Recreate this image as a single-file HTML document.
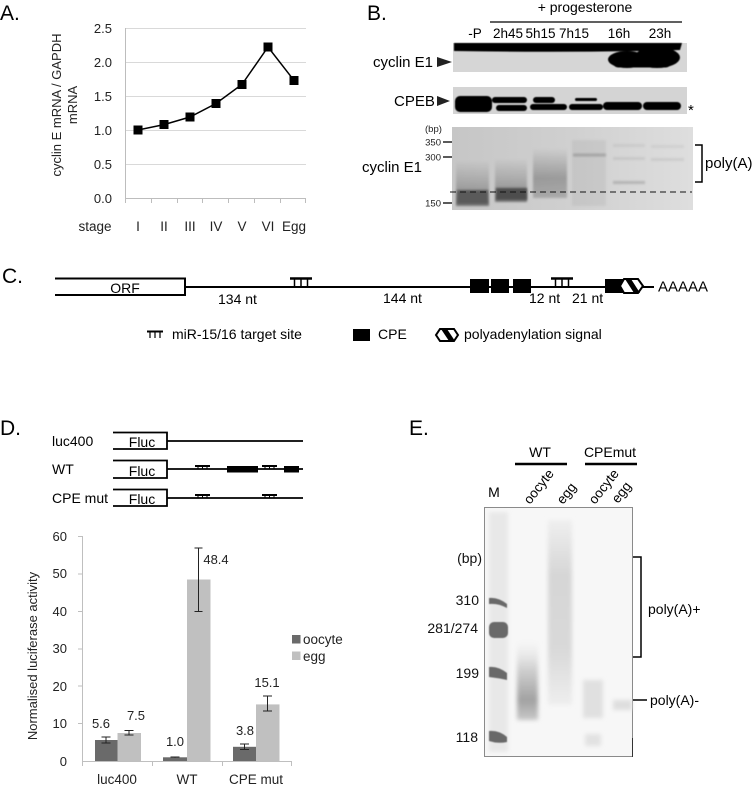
<!DOCTYPE html>
<html><head><meta charset="utf-8"><style>
html,body{margin:0;padding:0;background:#fff;}
svg{display:block;font-family:"Liberation Sans",Arial,sans-serif;}
</style></head><body>
<svg width="756" height="785" viewBox="0 0 756 785" xmlns="http://www.w3.org/2000/svg">
<defs>
<filter id="b05" x="-20%" y="-50%" width="140%" height="200%"><feGaussianBlur stdDeviation="0.6"/></filter>
<filter id="b1" x="-30%" y="-80%" width="160%" height="260%"><feGaussianBlur stdDeviation="1"/></filter>
<filter id="b2" x="-30%" y="-50%" width="160%" height="200%"><feGaussianBlur stdDeviation="2"/></filter>
<linearGradient id="gelB" x1="0" x2="1" y1="0" y2="0"><stop offset="0" stop-color="#c6c6c6"/><stop offset="0.5" stop-color="#d0d0d0"/><stop offset="1" stop-color="#dedede"/></linearGradient>
<linearGradient id="lP" x1="0" x2="0" y1="0" y2="1"><stop offset="0" stop-color="#000" stop-opacity="0"/><stop offset="0.6" stop-color="#000" stop-opacity="0.2"/><stop offset="1" stop-color="#000" stop-opacity="0.4"/></linearGradient>
<linearGradient id="l5" x1="0" x2="0" y1="0" y2="1"><stop offset="0" stop-color="#000" stop-opacity="0"/><stop offset="0.6" stop-color="#000" stop-opacity="0.25"/><stop offset="1" stop-color="#000" stop-opacity="0.18"/></linearGradient>
<linearGradient id="eo" x1="0" x2="0" y1="0" y2="1"><stop offset="0" stop-color="#e8e8e8" stop-opacity="0"/><stop offset="0.35" stop-color="#d2d2d2"/><stop offset="0.75" stop-color="#a2a2a2"/><stop offset="1" stop-color="#c8c8c8"/></linearGradient>
<linearGradient id="ee" x1="0" x2="0" y1="0" y2="1"><stop offset="0" stop-color="#efefef"/><stop offset="0.3" stop-color="#d6d6d6"/><stop offset="0.7" stop-color="#d9d9d9"/><stop offset="1" stop-color="#eeeeee"/></linearGradient>
</defs>

<!-- ============ PANEL A ============ -->
<text x="0" y="20" font-size="21">A.</text>
<g stroke="#d9d9d9" stroke-width="1">
<line x1="125" y1="28.5" x2="306" y2="28.5"/>
<line x1="125" y1="62.5" x2="306" y2="62.5"/>
<line x1="125" y1="96.5" x2="306" y2="96.5"/>
<line x1="125" y1="130.5" x2="306" y2="130.5"/>
<line x1="125" y1="164.5" x2="306" y2="164.5"/>
</g>
<g stroke="#bdbdbd" stroke-width="1">
<line x1="125.5" y1="28" x2="125.5" y2="198"/>
<line x1="125" y1="198.5" x2="306" y2="198.5"/>
<line x1="125.5" y1="198" x2="125.5" y2="203"/>
<line x1="151.5" y1="198" x2="151.5" y2="203"/>
<line x1="177.5" y1="198" x2="177.5" y2="203"/>
<line x1="202.5" y1="198" x2="202.5" y2="203"/>
<line x1="228.5" y1="198" x2="228.5" y2="203"/>
<line x1="254.5" y1="198" x2="254.5" y2="203"/>
<line x1="280.5" y1="198" x2="280.5" y2="203"/>
<line x1="305.5" y1="198" x2="305.5" y2="203"/>
</g>
<g font-size="13" text-anchor="end" fill="#222">
<text x="112" y="33">2.5</text>
<text x="112" y="67">2.0</text>
<text x="112" y="101">1.5</text>
<text x="112" y="135">1.0</text>
<text x="112" y="169">0.5</text>
<text x="112" y="203">0.0</text>
</g>
<g font-size="13" fill="#222">
<text transform="translate(61,105) rotate(-90)" text-anchor="middle">cyclin E mRNA  / GAPDH</text>
<text transform="translate(77,105) rotate(-90)" text-anchor="middle">mRNA</text>
</g>
<g font-size="13.5" fill="#222" text-anchor="middle">
<text x="95" y="231">stage</text>
<text x="138" y="231">I</text>
<text x="164" y="231">II</text>
<text x="190" y="231">III</text>
<text x="216" y="231">IV</text>
<text x="242" y="231">V</text>
<text x="268" y="231">VI</text>
<text x="294" y="231">Egg</text>
</g>
<polyline points="138,130 164,124.6 190,117 216,103.5 242,84.4 268,47 294,80.4" fill="none" stroke="#000" stroke-width="1.5"/>
<g fill="#000">
<rect x="133.5" y="125.5" width="9" height="9"/>
<rect x="159.5" y="120" width="9" height="9"/>
<rect x="185.5" y="112.5" width="9" height="9"/>
<rect x="211.5" y="99" width="9" height="9"/>
<rect x="237.5" y="80" width="9" height="9"/>
<rect x="263.5" y="42.5" width="9" height="9"/>
<rect x="289.5" y="76" width="9" height="9"/>
</g>

<!-- ============ PANEL B ============ -->
<text x="367" y="20" font-size="21">B.</text>
<text x="585" y="12" font-size="14" text-anchor="middle">+ progesterone</text>
<line x1="490" y1="22" x2="682" y2="22" stroke="#000" stroke-width="1.2"/>
<g font-size="13.5" text-anchor="middle">
<text x="475" y="38">-P</text>
<text x="508" y="38">2h45</text>
<text x="540.5" y="38">5h15</text>
<text x="574" y="38">7h15</text>
<text x="619" y="38">16h</text>
<text x="660" y="38">23h</text>
</g>
<!-- blot 1 -->
<rect x="453" y="43" width="234" height="29" fill="#d6d6d6"/>
<g filter="url(#b05)" fill="#000">
<path d="M454,43 H682 L680,50 Q570,53 454,51 Z"/>
<ellipse cx="627" cy="59.5" rx="19" ry="8.5"/>
<ellipse cx="657" cy="57.5" rx="23" ry="10.5"/>
<rect x="613" y="56" width="58" height="11.5" rx="5"/>
</g>
<text x="373" y="67" font-size="15">cyclin E1</text>
<polygon points="437,57 452,62 437,67" fill="#222"/>
<!-- blot 2 -->
<rect x="453" y="87" width="234" height="27" fill="#d4d4d4"/>
<g filter="url(#b05)" fill="#000">
<rect x="455" y="96" width="37" height="16" rx="5"/>
<rect x="492" y="97" width="35" height="6" rx="3"/>
<rect x="496" y="105" width="31" height="6" rx="3"/>
<rect x="533" y="97" width="22" height="6" rx="3"/>
<rect x="530" y="104" width="37" height="6" rx="3"/>
<rect x="575" y="98" width="22" height="3" rx="1.5"/>
<rect x="569" y="104" width="34" height="6" rx="3"/>
<rect x="603" y="102" width="39" height="8" rx="4"/>
<rect x="643" y="102" width="38" height="8" rx="4"/>
</g>
<text x="394" y="106" font-size="15">CPEB</text>
<polygon points="437,96 450,101 437,106" fill="#222"/>
<text x="688" y="115" font-size="15">*</text>
<!-- gel 3 -->
<rect x="452" y="127" width="241" height="83" fill="url(#gelB)"/>
<g filter="url(#b1)">
<rect x="456" y="160" width="33" height="46" fill="url(#lP)"/>
<rect x="495" y="158" width="32" height="44" fill="url(#lP)"/>
<rect x="533" y="148" width="34" height="50" fill="url(#l5)"/>
<rect x="572" y="140" width="34" height="66" fill="#000" opacity="0.05"/>
<rect x="573" y="153.5" width="33" height="3" fill="#000" opacity="0.18"/>
<rect x="613" y="181" width="32" height="3" fill="#000" opacity="0.16"/>
<rect x="613" y="157" width="32" height="3" fill="#000" opacity="0.07"/>
<rect x="613" y="144" width="32" height="3" fill="#000" opacity="0.06"/>
<rect x="651" y="158" width="33" height="3" fill="#000" opacity="0.07"/>
<rect x="651" y="145" width="33" height="3" fill="#000" opacity="0.05"/>
</g>
<rect x="457" y="190" width="31" height="14" fill="#5a5a5a" filter="url(#b1)"/>
<rect x="496" y="188" width="31" height="12" fill="#4e4e4e" filter="url(#b1)"/>
<line x1="450" y1="192" x2="692" y2="192" stroke="#111" stroke-width="1" stroke-dasharray="6,4"/>
<g stroke="#222" stroke-width="1.5">
<line x1="443" y1="142" x2="452" y2="142"/>
<line x1="443" y1="157" x2="452" y2="157"/>
<line x1="443" y1="203" x2="452" y2="203"/>
</g>
<g font-size="9.5" fill="#222">
<text x="425" y="132">(bp)</text>
<text x="441" y="145.5" text-anchor="end">350</text>
<text x="441" y="160.5" text-anchor="end">300</text>
<text x="441" y="206.5" text-anchor="end">150</text>
</g>
<text x="362" y="172" font-size="15">cyclin E1</text>
<path d="M695,145 H702 V182 H695" fill="none" stroke="#000" stroke-width="1.5"/>
<text x="705" y="168" font-size="15">poly(A)</text>

<!-- ============ PANEL C ============ -->
<text x="2" y="283" font-size="21">C.</text>
<path d="M55,278.5 H185 V295 H55" fill="none" stroke="#000" stroke-width="2"/>
<text x="125" y="293" font-size="14" text-anchor="middle">ORF</text>
<line x1="185" y1="287" x2="654" y2="287" stroke="#000" stroke-width="2"/>
<g stroke="#000">
<line x1="290" y1="278.5" x2="312" y2="278.5" stroke-width="2.5"/>
<line x1="294.5" y1="278" x2="294.5" y2="287" stroke-width="1.5"/>
<line x1="301" y1="278" x2="301" y2="287" stroke-width="1.5"/>
<line x1="307.5" y1="278" x2="307.5" y2="287" stroke-width="1.5"/>
<line x1="551" y1="278.5" x2="573" y2="278.5" stroke-width="2.5"/>
<line x1="555.5" y1="278" x2="555.5" y2="287" stroke-width="1.5"/>
<line x1="562" y1="278" x2="562" y2="287" stroke-width="1.5"/>
<line x1="568.5" y1="278" x2="568.5" y2="287" stroke-width="1.5"/>
</g>
<g fill="#000">
<rect x="470" y="279" width="19" height="14"/>
<rect x="491" y="279" width="18" height="14"/>
<rect x="513" y="279" width="18" height="14"/>
<rect x="605" y="279" width="18" height="14"/>
</g>
<g>
<polygon points="624,279 638,279 643,286 638,293 624,293 620,286" fill="#fff" stroke="#000" stroke-width="2"/>
<polygon points="625,279 631,279 640,293 634,293" fill="#000"/>
</g>
<text x="658" y="291.5" font-size="15">AAAAA</text>
<g font-size="14">
<text x="218" y="304">134 nt</text>
<text x="383" y="303">144 nt</text>
<text x="529" y="303">12 nt</text>
<text x="572" y="303">21 nt</text>
</g>
<!-- legend -->
<g stroke="#000">
<line x1="147" y1="331.5" x2="163" y2="331.5" stroke-width="2"/>
<line x1="150" y1="331" x2="150" y2="338" stroke-width="1.2"/>
<line x1="155" y1="331" x2="155" y2="338" stroke-width="1.2"/>
<line x1="160" y1="331" x2="160" y2="338" stroke-width="1.2"/>
</g>
<text x="172" y="339" font-size="14">miR-15/16 target site</text>
<rect x="353" y="329" width="17" height="12" fill="#000"/>
<text x="378" y="339" font-size="14">CPE</text>
<polygon points="440,329 454,329 458,335 454,341 440,341 436,335" fill="#fff" stroke="#000" stroke-width="2"/>
<polygon points="441,329 447,329 455,341 449,341" fill="#000"/>
<text x="464" y="339" font-size="14">polyadenylation signal</text>

<!-- ============ PANEL D ============ -->
<text x="0" y="435" font-size="21">D.</text>
<g font-size="14">
<text x="52" y="446">luc400</text>
<text x="52" y="474">WT</text>
<text x="52" y="503">CPE mut</text>
</g>
<g fill="none" stroke="#000" stroke-width="1.8">
<path d="M113,432.5 H167 V449 H113"/>
<path d="M113,460.5 H167 V478 H113"/>
<path d="M113,489.5 H167 V506 H113"/>
<line x1="167" y1="441" x2="303" y2="441"/>
<line x1="167" y1="469" x2="303" y2="469"/>
<line x1="167" y1="498" x2="303" y2="498"/>
</g>
<g font-size="14" text-anchor="middle">
<text x="142" y="447">Fluc</text>
<text x="142" y="476">Fluc</text>
<text x="142" y="504">Fluc</text>
</g>
<g stroke="#000">
<line x1="195" y1="466" x2="210" y2="466" stroke-width="2"/>
<line x1="198" y1="466" x2="198" y2="469" stroke-width="1"/><line x1="202.5" y1="466" x2="202.5" y2="469" stroke-width="1"/><line x1="207" y1="466" x2="207" y2="469" stroke-width="1"/>
<line x1="262" y1="466" x2="277" y2="466" stroke-width="2"/>
<line x1="265" y1="466" x2="265" y2="469" stroke-width="1"/><line x1="269.5" y1="466" x2="269.5" y2="469" stroke-width="1"/><line x1="274" y1="466" x2="274" y2="469" stroke-width="1"/>
<line x1="195" y1="495" x2="210" y2="495" stroke-width="2"/>
<line x1="198" y1="495" x2="198" y2="498" stroke-width="1"/><line x1="202.5" y1="495" x2="202.5" y2="498" stroke-width="1"/><line x1="207" y1="495" x2="207" y2="498" stroke-width="1"/>
<line x1="262" y1="495" x2="277" y2="495" stroke-width="2"/>
<line x1="265" y1="495" x2="265" y2="498" stroke-width="1"/><line x1="269.5" y1="495" x2="269.5" y2="498" stroke-width="1"/><line x1="274" y1="495" x2="274" y2="498" stroke-width="1"/>
</g>
<rect x="227" y="466" width="31" height="6.5" fill="#000"/>
<rect x="284" y="466" width="15" height="6.5" fill="#000"/>

<!-- chart D -->
<g stroke="#bfbfbf" stroke-width="1">
<line x1="82.5" y1="536" x2="82.5" y2="761"/>
<line x1="78" y1="536.5" x2="82" y2="536.5"/>
<line x1="78" y1="574" x2="82" y2="574"/>
<line x1="78" y1="611.5" x2="82" y2="611.5"/>
<line x1="78" y1="649" x2="82" y2="649"/>
<line x1="78" y1="686" x2="82" y2="686"/>
<line x1="78" y1="723.5" x2="82" y2="723.5"/>
<line x1="82" y1="761.5" x2="292" y2="761.5"/>
<line x1="82.5" y1="761" x2="82.5" y2="766"/>
<line x1="152.5" y1="761" x2="152.5" y2="766"/>
<line x1="222.5" y1="761" x2="222.5" y2="766"/>
<line x1="291.5" y1="761" x2="291.5" y2="766"/>
</g>
<g font-size="13" text-anchor="end" fill="#222">
<text x="67" y="541">60</text>
<text x="67" y="578">50</text>
<text x="67" y="616">40</text>
<text x="67" y="653">30</text>
<text x="67" y="691">20</text>
<text x="67" y="728">10</text>
<text x="67" y="766">0</text>
</g>
<text transform="translate(37,656) rotate(-90)" font-size="13" text-anchor="middle" fill="#222">Normalised luciferase activity</text>
<g>
<rect x="95" y="740" width="22.5" height="21" fill="#6a6a6a"/>
<rect x="117.5" y="733" width="23.5" height="28" fill="#c0c0c0"/>
<rect x="163" y="757.3" width="24" height="3.7" fill="#6a6a6a"/>
<rect x="187" y="579.5" width="23.5" height="181.5" fill="#c0c0c0"/>
<rect x="233" y="746.8" width="23" height="14.2" fill="#6a6a6a"/>
<rect x="256" y="704.4" width="23.5" height="56.6" fill="#c0c0c0"/>
</g>
<g stroke="#222" stroke-width="1" fill="none">
<path d="M106,737 V743 M101.5,737 H110.5 M101.5,743 H110.5"/>
<path d="M129,730.5 V735 M124.5,730.5 H133.5 M124.5,735 H133.5"/>
<path d="M175,757 V757.8 M170.5,757 H179.5"/>
<path d="M198.5,548 V611.5 M194.5,548 H202.5 M194.5,611.5 H202.5"/>
<path d="M244.5,744 V749.5 M240,744 H249 M240,749.5 H249"/>
<path d="M267.5,696 V711 M263,696 H272 M263,711 H272"/>
</g>
<g font-size="13" text-anchor="middle" fill="#222">
<text x="101" y="728">5.6</text>
<text x="136" y="720">7.5</text>
<text x="175" y="746">1.0</text>
<text x="216" y="564">48.4</text>
<text x="245" y="735">3.8</text>
<text x="267" y="687">15.1</text>
</g>
<rect x="292" y="635" width="8.5" height="8.5" fill="#6a6a6a"/>
<text x="303" y="644" font-size="13.5" fill="#222">oocyte</text>
<rect x="292" y="651.5" width="8.5" height="8.5" fill="#c0c0c0"/>
<text x="303" y="661" font-size="13.5" fill="#222">egg</text>
<g font-size="13.5" text-anchor="middle" fill="#222">
<text x="117" y="784">luc400</text>
<text x="187" y="784">WT</text>
<text x="256" y="784">CPE mut</text>
</g>

<!-- ============ PANEL E ============ -->
<text x="409" y="435" font-size="21">E.</text>
<g font-size="14" text-anchor="middle">
<text x="540" y="457">WT</text>
<text x="610" y="457">CPEmut</text>
<text x="494" y="497">M</text>
</g>
<line x1="515" y1="464" x2="567" y2="464" stroke="#000" stroke-width="2.5"/>
<line x1="585" y1="464" x2="637" y2="464" stroke="#000" stroke-width="2.5"/>
<g font-size="13.5">
<text transform="translate(530,505) rotate(-52)">oocyte</text>
<text transform="translate(563,505) rotate(-52)">egg</text>
<text transform="translate(595,505) rotate(-52)">oocyte</text>
<text transform="translate(618,504) rotate(-52)">egg</text>
</g>
<rect x="484.5" y="507.5" width="148" height="249" fill="#f7f7f7" stroke="#8a8a8a" stroke-width="1"/>
<rect x="489" y="512" width="19" height="240" fill="#e8e8e8" filter="url(#b2)"/>
<g fill="#696969" filter="url(#b05)">
<path d="M489,598 Q498,597 507,604 L507,608 Q498,603 489,604 Z"/>
<rect x="489" y="622" width="19" height="16" rx="5"/>
<path d="M489,667 Q498,666 507,673 L507,680 Q498,678 489,677 Z"/>
<path d="M489,731 Q499,730 507,737 L507,742 Q498,744 489,741 Z"/>
</g>
<g filter="url(#b2)">
<rect x="517" y="640" width="21" height="80" fill="url(#eo)"/>
<rect x="548" y="520" width="24" height="185" fill="url(#ee)"/>
<rect x="583" y="680" width="20" height="38" fill="#e0e0e0"/>
<rect x="585" y="734" width="16" height="12" fill="#e2e2e2"/>
<rect x="613" y="700" width="19" height="10" fill="#dedede"/>
</g>
<line x1="632.5" y1="738" x2="632.5" y2="757" stroke="#333" stroke-width="1"/>
<g font-size="14" text-anchor="end" fill="#111">
<text x="482" y="563">(bp)</text>
<text x="479" y="605">310</text>
<text x="478" y="633">281/274</text>
<text x="479" y="678">199</text>
<text x="478" y="742">118</text>
</g>
<path d="M633,557 H641 V657 H633" fill="none" stroke="#000" stroke-width="1.5"/>
<text x="648" y="614" font-size="14">poly(A)+</text>
<line x1="633" y1="700" x2="647" y2="700" stroke="#000" stroke-width="1.5"/>
<text x="650" y="705" font-size="14">poly(A)-</text>
</svg>
</body></html>
